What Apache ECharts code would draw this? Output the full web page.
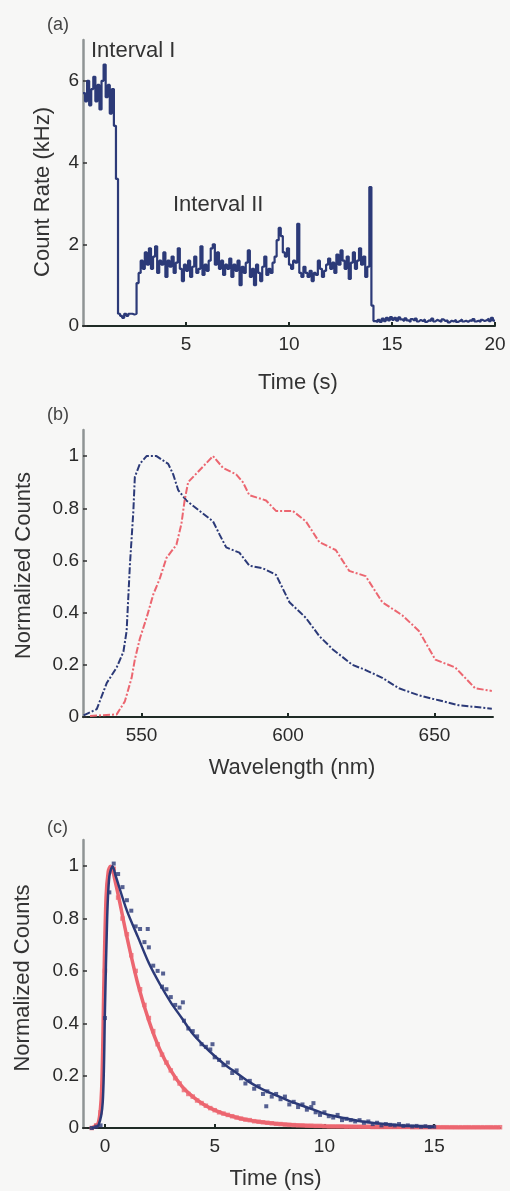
<!DOCTYPE html>
<html>
<head>
<meta charset="utf-8">
<script src="https://cdn.jsdelivr.net/npm/echarts@6/dist/echarts.min.js"></script>
<style>
html,body{margin:0;padding:0;background:#f7f7f6;}
#chart{width:510px;height:1191px;}
</style>
</head>
<body>
<div id="chart"></div>
<script>
// ---------- Panel (a): count rate trace, 0.1 s bins starting at t = 0 ----------
const traceStart = 0;
const traceStep = 0.1;
const countRate = [
  5.7, 5.5, 6.0, 5.4, 5.8, 6.1, 5.5, 5.9, 5.3, 6.0,
  6.4, 5.6, 5.9, 5.2, 5.8, 4.9, 3.6, 0.3, 0.25, 0.2,
  0.3, 0.25, 0.3, 0.3, 0.28, 0.3, 1.05, 1.3, 1.6, 1.4,
  1.8, 1.5, 1.9, 1.4, 1.7, 1.95, 1.3, 1.6, 1.5, 1.8,
  1.2, 1.6, 1.45, 1.7, 1.3, 1.55, 1.9, 1.4, 1.1, 1.5,
  1.35, 1.6, 1.2, 1.45, 1.7, 1.3, 1.4, 1.95, 1.25, 1.5,
  1.35, 1.6, 1.9, 2.0, 1.5, 1.8, 1.4, 1.6, 1.25, 1.5,
  1.4, 1.65, 1.2, 1.5, 1.35, 1.6, 1.0, 1.45, 1.3, 1.55,
  1.85, 1.2, 1.4, 1.0, 1.5, 1.3, 1.1, 1.45, 1.7, 1.25,
  1.4, 1.3, 1.55, 1.7, 2.1, 2.4, 2.2, 1.8, 1.7, 1.9,
  1.5, 1.4, 1.6, 1.55, 2.5, 1.3, 1.2, 1.45, 1.3, 1.2,
  1.35, 1.1, 1.3, 1.25, 1.6, 1.4, 1.2, 1.35, 1.5, 1.65,
  1.4, 1.55, 1.3, 1.75, 1.5, 1.85, 1.6, 1.4, 1.7, 1.15,
  1.55, 1.8, 1.4, 1.6, 1.9, 1.5, 1.7, 1.2, 1.45, 3.4,
  0.5, 0.12, 0.1, 0.15, 0.1, 0.18, 0.12, 0.2, 0.14, 0.22,
  0.15, 0.2, 0.13, 0.21, 0.16, 0.12, 0.19, 0.14, 0.1, 0.17,
  0.13, 0.18, 0.11, 0.15, 0.12, 0.16, 0.1, 0.14, 0.12, 0.18,
  0.11, 0.15, 0.13, 0.1, 0.16, 0.12, 0.14, 0.09, 0.13, 0.11,
  0.15, 0.1, 0.12, 0.16, 0.11, 0.13, 0.1, 0.14, 0.12, 0.17,
  0.11, 0.13, 0.1, 0.15, 0.12, 0.14, 0.18, 0.12, 0.2, 0.13,
  0.12
];
const aXTicks = [5, 10, 15, 20];
const aYTicks = [0, 2, 4, 6];

// ---------- Panel (b): emission spectra ----------
const specBlueWl = [530.2, 534.7, 538.1, 541.5, 543.8, 544.9, 546.0, 547.2, 547.7, 549.4, 551.7, 555.1, 559.1, 560.8, 562.5, 565.3, 569.8, 574.4, 576.6, 578.9, 583.4, 586.8, 591.4, 595.9, 600.5, 606.1, 610.7, 615.2, 622.0, 626.5, 632.2, 637.9, 644.7, 651.5, 658.3, 669.6];
const specBlueVal = [0.006, 0.03, 0.13, 0.19, 0.25, 0.33, 0.58, 0.79, 0.92, 0.97, 1.0, 1.0, 0.97, 0.93, 0.87, 0.83, 0.79, 0.75, 0.70, 0.65, 0.63, 0.58, 0.57, 0.545, 0.44, 0.38, 0.31, 0.26, 0.20, 0.18, 0.15, 0.11, 0.083, 0.064, 0.045, 0.032];
const specRedWl = [532.4, 541.5, 544.3, 546.6, 547.7, 549.4, 551.7, 554.0, 556.2, 558.5, 561.9, 563.6, 564.7, 565.9, 569.3, 574.4, 577.8, 582.3, 584.6, 586.8, 592.5, 595.9, 601.6, 606.1, 610.7, 616.3, 620.9, 626.5, 632.2, 639.0, 644.7, 650.3, 657.1, 663.9, 669.6];
const specRedVal = [0.004, 0.01, 0.06, 0.15, 0.22, 0.30, 0.38, 0.47, 0.53, 0.61, 0.66, 0.74, 0.83, 0.90, 0.94, 1.0, 0.955, 0.93, 0.90, 0.85, 0.83, 0.79, 0.79, 0.75, 0.67, 0.64, 0.56, 0.54, 0.44, 0.39, 0.33, 0.22, 0.19, 0.11, 0.10];
const bXTicks = [550, 600, 650];
const normTicks = [0, 0.2, 0.4, 0.6, 0.8, 1];

// ---------- Panel (c): fluorescence decays, points every 0.2 ns from -0.6 ns ----------
const decayStart = -0.6;
const decayStep = 0.2;
const decayBluePts = [
  0.0, 0.005, 0.01, 0.42, 0.9, 1.01, 0.97, 0.92, 0.87, 0.83,
  0.77, 0.76, 0.71, 0.69, 0.62, 0.6, 0.54, 0.53, 0.5, 0.47,
  0.46, 0.41, 0.38, 0.37, 0.35, 0.32, 0.31, 0.30, 0.27, 0.26,
  0.24, 0.25, 0.21, 0.22, 0.19, 0.17, 0.18, 0.15, 0.16, 0.13,
  0.14, 0.12, 0.13, 0.11, 0.12, 0.09, 0.1, 0.08, 0.09, 0.07,
  0.08, 0.06, 0.05, 0.06, 0.045, 0.04, 0.05, 0.03, 0.035, 0.03,
  0.025, 0.03, 0.02, 0.025, 0.015, 0.02, 0.01, 0.015, 0.012, 0.01,
  0.015, 0.008, 0.01, 0.006, 0.008, 0.005, 0.007, 0.004, 0.005
];
const blueOutlierT = [1.95, 2.65, 3.55, 4.9, 7.35, 9.5];
const blueOutlierV = [0.76, 0.59, 0.48, 0.32, 0.083, 0.095];
const decayRedPts = [
  0.0, 0.01, 0.06, 0.6, 0.98, 0.99, 0.88, 0.8, 0.74, 0.66,
  0.6, 0.53, 0.47, 0.42, 0.37, 0.32, 0.28, 0.25, 0.22, 0.19,
  0.17, 0.145, 0.13, 0.12, 0.105, 0.095, 0.085, 0.076, 0.068, 0.06,
  0.055, 0.05, 0.045, 0.04, 0.036, 0.032, 0.03, 0.026, 0.024, 0.022,
  0.02, 0.018, 0.016, 0.015, 0.013, 0.012, 0.011, 0.01, 0.01, 0.009,
  0.009, 0.008, 0.008, 0.007, 0.006, 0.006, 0.006, 0.006, 0.005, 0.005,
  0.005, 0.005, 0.005, 0.005, 0.004, 0.004, 0.004, 0.004, 0.004, 0.004,
  0.004, 0.004, 0.004, 0.003, 0.003, 0.003, 0.003, 0.003, 0.003, 0.003,
  0.003, 0.003, 0.003, 0.003, 0.003, 0.003, 0.003, 0.003, 0.003, 0.003,
  0.003, 0.003, 0.003, 0.003
];
const fitBlueT = [-0.6, -0.3, -0.1, 0.0, 0.1, 0.2, 0.35, 0.5, 1.0, 1.5, 2.0, 2.5, 3.0, 3.5, 4.0, 4.5, 5.0, 5.5, 6.0, 6.5, 7.0, 7.5, 8.0, 8.5, 9.0, 9.5, 10.0, 10.5, 11.0, 11.5, 12.0, 12.5, 13.0, 13.5, 14.0, 14.5, 15.0];
const fitBlueV = [0.0, 0.01, 0.1, 0.45, 0.8, 0.96, 1.0, 0.96, 0.83, 0.73, 0.63, 0.55, 0.48, 0.42, 0.36, 0.315, 0.275, 0.24, 0.21, 0.18, 0.155, 0.135, 0.118, 0.1, 0.085, 0.07, 0.055, 0.045, 0.036, 0.028, 0.022, 0.017, 0.013, 0.01, 0.008, 0.006, 0.005];
const fitRedT = [-0.6, -0.3, -0.15, -0.05, 0.05, 0.15, 0.25, 0.5, 1.0, 1.5, 2.0, 2.5, 3.0, 3.5, 4.0, 4.5, 5.0, 5.5, 6.0, 6.5, 7.0, 7.5, 8.0, 9.0, 10.0, 12.0, 14.0, 16.0, 18.0];
const fitRedV = [0.0, 0.02, 0.15, 0.55, 0.88, 0.98, 1.0, 0.93, 0.73, 0.55, 0.41, 0.30, 0.22, 0.16, 0.12, 0.09, 0.068, 0.052, 0.04, 0.031, 0.024, 0.019, 0.015, 0.01, 0.007, 0.004, 0.003, 0.002, 0.002];
const cXTicks = [0, 5, 10, 15];

// ---------- build ----------
const navy = '#2c3a78';
const red = '#ec6670';
const font = 'Liberation Sans, Arial, sans-serif';
const pairs = (xs, ys) => ys.map((v, i) => [xs[i], v]);
const regular = (start, step, ys) => ys.map((v, i) => [+(start + i * step).toFixed(2), v]);

function xAx(grid, min, max, ticks, name, pad, gap) {
  return {
    type: 'value', gridIndex: grid, min: min, max: max,
    name: name, nameLocation: 'middle', nameGap: gap,
    nameTextStyle: {fontSize: 22, color: '#333', fontFamily: font, padding: pad},
    axisLine: {show: true, onZero: false, lineStyle: {color: '#1f2b26', width: 2}},
    axisTick: {show: true, inside: true, length: 4, customValues: ticks, lineStyle: {color: '#1f2b26', width: 2}},
    axisLabel: {customValues: ticks, fontSize: 19, color: '#2a2a2a', fontFamily: font, margin: 9},
    splitLine: {show: false}
  };
}
function yAx(grid, min, max, ticks, name, pad, gap) {
  return {
    type: 'value', gridIndex: grid, min: min, max: max,
    name: name, nameLocation: 'middle', nameGap: gap, nameRotate: 90,
    nameTextStyle: {fontSize: 22, color: '#333', fontFamily: font, padding: pad},
    axisLine: {show: true, onZero: false, lineStyle: {color: '#8f9494', width: 2.5}},
    axisTick: {show: true, inside: true, length: 4, customValues: ticks, lineStyle: {color: '#333', width: 1.5}},
    axisLabel: {customValues: ticks, fontSize: 19, color: '#2a2a2a', fontFamily: font, margin: 4},
    splitLine: {show: false}
  };
}

const chart = echarts.init(document.getElementById('chart'), null, {renderer: 'canvas'});
chart.setOption({
  backgroundColor: '#f7f7f6',
  animation: false,
  grid: [
    {left: 83, top: 40, width: 412, height: 286},
    {left: 83, top: 430, width: 410, height: 287},
    {left: 83, top: 840, width: 417, height: 288}
  ],
  xAxis: [
    xAx(0, 0, 20, aXTicks, 'Time (s)', [0, 0, 0, 18], 46),
    xAx(1, 530, 670, bXTicks, 'Wavelength (nm)', [0, 0, 0, 8], 40),
    xAx(2, -1, 18, cXTicks, 'Time (ns)', [0, 32, 0, 0], 40)
  ],
  yAxis: [
    yAx(0, 0, 7, aYTicks, 'Count Rate (kHz)', [0, 18, 0, 0], 29),
    yAx(1, 0, 1.1, normTicks, 'Normalized Counts', [0, 0, 0, 16], 48),
    yAx(2, 0, 1.1, normTicks, 'Normalized Counts', [0, 0, 0, 12], 49)
  ],
  graphic: [
    {type: 'text', left: 47, top: 16, style: {text: '(a)', font: '18px Liberation Sans', fill: '#444'}},
    {type: 'text', left: 91, top: 40, style: {text: 'Interval I', font: '22px Liberation Sans', fill: '#333'}},
    {type: 'text', left: 173, top: 194, style: {text: 'Interval II', font: '22px Liberation Sans', fill: '#333'}},
    {type: 'text', left: 47, top: 406, style: {text: '(b)', font: '18px Liberation Sans', fill: '#444'}},
    {type: 'text', left: 47, top: 819, style: {text: '(c)', font: '18px Liberation Sans', fill: '#444'}}
  ],
  series: [
    {type: 'line', xAxisIndex: 0, yAxisIndex: 0, step: 'end', showSymbol: false,
     data: regular(traceStart, traceStep, countRate), lineStyle: {color: navy, width: 2.2}},
    {type: 'line', xAxisIndex: 1, yAxisIndex: 1, showSymbol: false,
     data: pairs(specBlueWl, specBlueVal), lineStyle: {color: navy, width: 2, type: [7, 2, 2, 2]}},
    {type: 'line', xAxisIndex: 1, yAxisIndex: 1, showSymbol: false,
     data: pairs(specRedWl, specRedVal), lineStyle: {color: red, width: 2, type: [7, 2, 2, 2]}},
    {type: 'line', xAxisIndex: 2, yAxisIndex: 2, showSymbol: false, smooth: 0.3,
     data: pairs(fitRedT, fitRedV), lineStyle: {color: red, width: 3.5}, z: 3},
    {type: 'scatter', xAxisIndex: 2, yAxisIndex: 2, symbol: 'rect', symbolSize: 4.5,
     data: regular(decayStart, decayStep, decayRedPts), itemStyle: {color: red}, z: 3},
    {type: 'line', xAxisIndex: 2, yAxisIndex: 2, showSymbol: false, smooth: 0.3,
     data: pairs(fitBlueT, fitBlueV), lineStyle: {color: navy, width: 2.5}, z: 4},
    {type: 'scatter', xAxisIndex: 2, yAxisIndex: 2, symbol: 'rect', symbolSize: 4,
     data: regular(decayStart, decayStep, decayBluePts), itemStyle: {color: navy}, z: 4},
    {type: 'scatter', xAxisIndex: 2, yAxisIndex: 2, symbol: 'rect', symbolSize: 4,
     data: pairs(blueOutlierT, blueOutlierV), itemStyle: {color: navy}, z: 4}
  ]
});
</script>
</body>
</html>
